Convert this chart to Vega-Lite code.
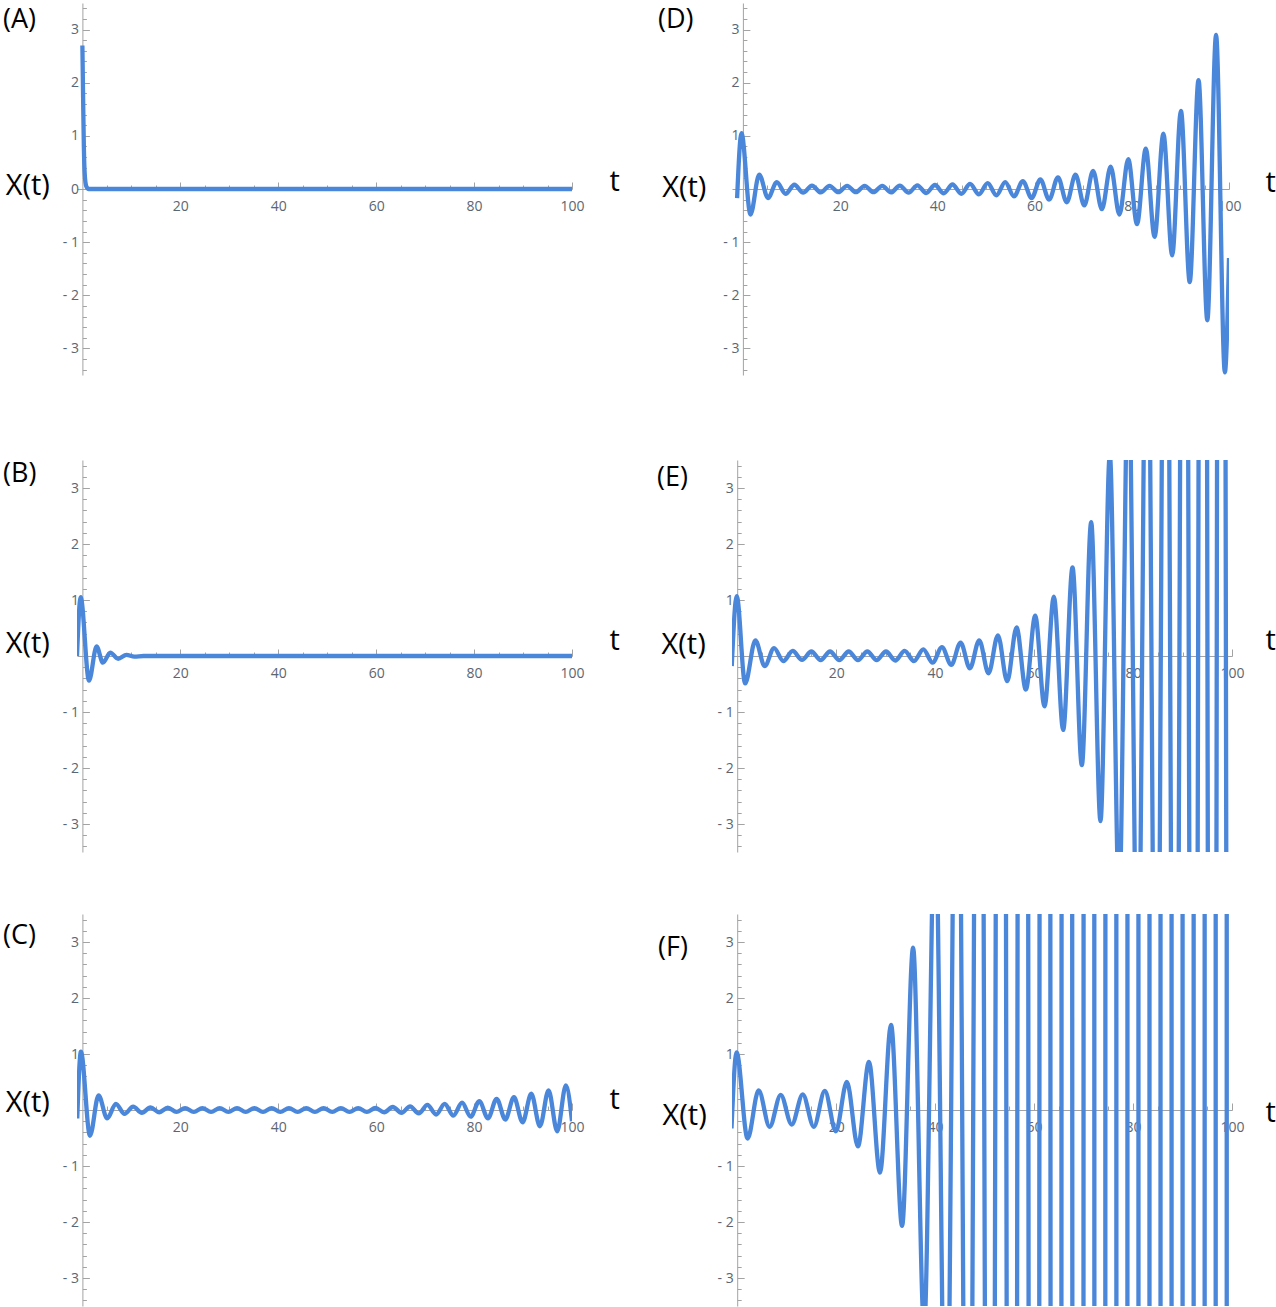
{
  "$schema": "https://vega.github.io/schema/vega-lite/v6.json",
  "background": "white",
  "padding": {"left": 3, "top": 1, "right": 0, "bottom": 0},
  "autosize": {"type": "pad"},
  "config": {
    "view": {"stroke": null},
    "axis": {"grid": false, "labelFont": "Open Sans", "labelFontSize": 14, "labelColor": "#5b6672", "domainColor": "#a3a3a3", "tickColor": "#a3a3a3", "domainWidth": 1, "tickWidth": 1, "titleFont": "Open Sans", "titleFontSize": 29, "titleFontWeight": "normal", "titleColor": "#000000", "labelOverlap": false, "labelFlush": false, "labelBound": false},
    "title": {"font": "Open Sans", "fontSize": 27, "fontWeight": "normal", "color": "#000000", "anchor": "start", "frame": "group", "offset": 0, "baseline": "middle", "align": "left"},
    "line": {"color": "#4a86d9", "strokeWidth": 4.3, "interpolate": "monotone", "strokeJoin": "round"}
  },
  "datasets": {
    "A": [{"t":0,"x":2.7},{"t":0.15,"x":1.7},{"t":0.3,"x":0.8},{"t":0.5,"x":0.25},{"t":0.8,"x":0.05},{"t":1.3,"x":0},{"t":100,"x":0}],
    "B": [{"t":-1.1,"x":0},{"t":-0.35,"x":1.05},{"t":1.35,"x":-0.44},{"t":2.9,"x":0.17},{"t":4.2,"x":-0.12},{"t":5.7,"x":0.06},{"t":7.3,"x":-0.05},{"t":9.0,"x":0.02},{"t":10.6,"x":-0.01},{"t":12.5,"x":0},{"t":100,"x":0}],
    "C": [{"t":-1.05,"x":-0.15},{"t":-0.3,"x":1.04},{"t":1.55,"x":-0.46},{"t":3.3,"x":0.26},{"t":5.07,"x":-0.15},{"t":6.84,"x":0.11},{"t":8.61,"x":-0.07},{"t":10.37,"x":0.06},{"t":12.14,"x":-0.05},{"t":13.91,"x":0.045},{"t":15.68,"x":-0.04},{"t":17.44,"x":0.04},{"t":19.21,"x":-0.035},{"t":20.98,"x":0.035},{"t":22.75,"x":-0.035},{"t":24.51,"x":0.035},{"t":26.28,"x":-0.035},{"t":28.05,"x":0.035},{"t":29.82,"x":-0.035},{"t":31.58,"x":0.035},{"t":33.35,"x":-0.035},{"t":35.12,"x":0.035},{"t":36.89,"x":-0.035},{"t":38.65,"x":0.035},{"t":40.42,"x":-0.035},{"t":42.19,"x":0.035},{"t":43.96,"x":-0.035},{"t":45.72,"x":0.035},{"t":47.49,"x":-0.035},{"t":49.26,"x":0.035},{"t":51.03,"x":-0.035},{"t":52.79,"x":0.035},{"t":54.56,"x":-0.035},{"t":56.33,"x":0.035},{"t":58.1,"x":-0.035},{"t":59.86,"x":0.036},{"t":61.63,"x":-0.04},{"t":63.4,"x":0.054},{"t":65.17,"x":-0.05},{"t":66.93,"x":0.066},{"t":68.7,"x":-0.06},{"t":70.47,"x":0.09},{"t":72.24,"x":-0.08},{"t":74.0,"x":0.11},{"t":75.77,"x":-0.1},{"t":77.54,"x":0.13},{"t":79.31,"x":-0.12},{"t":81.07,"x":0.16},{"t":82.84,"x":-0.15},{"t":84.61,"x":0.2},{"t":86.38,"x":-0.17},{"t":88.14,"x":0.23},{"t":89.91,"x":-0.22},{"t":91.68,"x":0.29},{"t":93.45,"x":-0.29},{"t":95.21,"x":0.35},{"t":96.98,"x":-0.38},{"t":98.75,"x":0.44},{"t":100,"x":-0.2}],
    "D": [{"t":-1.2,"x":-0.17},{"t":-0.3,"x":1.05},{"t":1.55,"x":-0.48},{"t":3.35,"x":0.27},{"t":5.16,"x":-0.17},{"t":6.97,"x":0.13},{"t":8.78,"x":-0.09},{"t":10.58,"x":0.08},{"t":12.39,"x":-0.07},{"t":14.2,"x":0.065},{"t":16.01,"x":-0.065},{"t":17.81,"x":0.06},{"t":19.62,"x":-0.06},{"t":21.43,"x":0.06},{"t":23.24,"x":-0.06},{"t":25.04,"x":0.06},{"t":26.85,"x":-0.06},{"t":28.66,"x":0.06},{"t":30.47,"x":-0.065},{"t":32.27,"x":0.065},{"t":34.08,"x":-0.07},{"t":35.89,"x":0.07},{"t":37.7,"x":-0.075},{"t":39.5,"x":0.075},{"t":41.31,"x":-0.08},{"t":43.12,"x":0.085},{"t":44.93,"x":-0.09},{"t":46.73,"x":0.095},{"t":48.54,"x":-0.1},{"t":50.35,"x":0.11},{"t":52.16,"x":-0.12},{"t":53.96,"x":0.13},{"t":55.77,"x":-0.14},{"t":57.58,"x":0.15},{"t":59.39,"x":-0.17},{"t":61.19,"x":0.18},{"t":63.0,"x":-0.2},{"t":64.81,"x":0.22},{"t":66.62,"x":-0.25},{"t":68.42,"x":0.27},{"t":70.23,"x":-0.31},{"t":72.04,"x":0.34},{"t":73.85,"x":-0.38},{"t":75.65,"x":0.42},{"t":77.46,"x":-0.48},{"t":79.27,"x":0.56},{"t":81.08,"x":-0.66},{"t":82.88,"x":0.76},{"t":84.69,"x":-0.9},{"t":86.5,"x":1.04},{"t":88.31,"x":-1.25},{"t":90.11,"x":1.47},{"t":91.92,"x":-1.75},{"t":93.73,"x":2.05},{"t":95.54,"x":-2.47},{"t":97.34,"x":2.9},{"t":99.15,"x":-3.45},{"t":100,"x":-1.3}],
    "E": [{"t":-1.1,"x":-0.18},{"t":-0.09,"x":1.07},{"t":1.6,"x":-0.49},{"t":3.68,"x":0.28},{"t":5.56,"x":-0.18},{"t":7.45,"x":0.14},{"t":9.33,"x":-0.09},{"t":11.22,"x":0.09},{"t":13.1,"x":-0.07},{"t":14.99,"x":0.08},{"t":16.87,"x":-0.075},{"t":18.76,"x":0.08},{"t":20.64,"x":-0.075},{"t":22.53,"x":0.08},{"t":24.41,"x":-0.075},{"t":26.3,"x":0.08},{"t":28.18,"x":-0.075},{"t":30.07,"x":0.08},{"t":31.95,"x":-0.08},{"t":33.84,"x":0.09},{"t":35.72,"x":-0.09},{"t":37.61,"x":0.12},{"t":39.49,"x":-0.12},{"t":41.38,"x":0.16},{"t":43.26,"x":-0.16},{"t":45.15,"x":0.24},{"t":47.03,"x":-0.22},{"t":48.92,"x":0.28},{"t":50.8,"x":-0.31},{"t":52.69,"x":0.37},{"t":54.57,"x":-0.45},{"t":56.46,"x":0.51},{"t":58.34,"x":-0.6},{"t":60.23,"x":0.72},{"t":62.11,"x":-0.9},{"t":64.0,"x":1.06},{"t":65.88,"x":-1.32},{"t":67.77,"x":1.58},{"t":69.65,"x":-1.95},{"t":71.54,"x":2.39},{"t":73.42,"x":-2.95},{"t":75.31,"x":3.6},{"t":77.19,"x":-4.4},{"t":79.08,"x":5.4},{"t":80.96,"x":-6.7},{"t":82.85,"x":8.2},{"t":84.73,"x":-10},{"t":86.62,"x":12.3},{"t":88.5,"x":-15},{"t":90.39,"x":18.5},{"t":92.27,"x":-23},{"t":94.16,"x":28},{"t":96.04,"x":-34},{"t":97.93,"x":42},{"t":99.81,"x":-52}],
    "F": [{"t":-1.15,"x":-0.33},{"t":-0.13,"x":1.03},{"t":2.1,"x":-0.51},{"t":4.33,"x":0.35},{"t":6.56,"x":-0.3},{"t":8.79,"x":0.27},{"t":11.02,"x":-0.26},{"t":13.25,"x":0.28},{"t":15.48,"x":-0.3},{"t":17.71,"x":0.34},{"t":19.94,"x":-0.38},{"t":22.17,"x":0.5},{"t":24.4,"x":-0.65},{"t":26.63,"x":0.86},{"t":28.86,"x":-1.12},{"t":31.09,"x":1.52},{"t":33.32,"x":-2.07},{"t":35.55,"x":2.9},{"t":37.78,"x":-3.9},{"t":40.01,"x":5.4},{"t":42.24,"x":-7.3},{"t":44.47,"x":10},{"t":46.7,"x":-13.6},{"t":48.93,"x":18.5},{"t":51.16,"x":-25},{"t":53.39,"x":34},{"t":55.62,"x":-46},{"t":57.85,"x":63},{"t":60.08,"x":-85},{"t":62.31,"x":116},{"t":64.54,"x":-158},{"t":66.77,"x":215},{"t":69.0,"x":-290},{"t":71.23,"x":400},{"t":73.46,"x":-540},{"t":75.69,"x":730},{"t":77.92,"x":-1000},{"t":80.15,"x":1350},{"t":82.38,"x":-1840},{"t":84.61,"x":2500},{"t":86.84,"x":-3400},{"t":89.07,"x":4600},{"t":91.3,"x":-6300},{"t":93.53,"x":8500},{"t":95.76,"x":-11600},{"t":97.99,"x":15800},{"t":100.22,"x":-21500}]
  },
  "columns": 2,
  "spacing": {"row": 0, "column": 160},
  "bounds": "flush",
  "align": "each",
  "concat": [
    {
      "width": 495, "height": 372,
      "title": {"text": "(A)", "dx": -74, "dy": 36.5},
      "data": {"name": "A"},
      "mark": {"type": "line", "clip": true},
      "encoding": {
        "x": {"field": "t", "type": "quantitative", "scale": {"domain": [-1.1, 100], "nice": false, "zero": false},
          "axis": {"orient": "bottom", "offset": -186, "values": [5,10,15,20,25,30,35,40,45,50,55,60,65,70,75,80,85,90,95,100], "labelExpr": "datum.value % 20 === 0 ? datum.label : ''", "tickSize": {"condition": {"test": "datum.value % 20 === 0", "value": -7}, "value": -4}, "labelPadding": 17, "title": "t", "titleX": 532, "titleY": -8, "titleAlign": "left", "titleBaseline": "middle", "titleAngle": 0}},
        "y": {"field": "x", "type": "quantitative", "scale": {"domain": [-3.5, 3.5], "nice": false, "zero": false},
          "axis": {"orient": "left", "offset": -5.4, "values": [-3.4,-3.2,-3,-2.8,-2.6,-2.4,-2.2,-2,-1.8,-1.6,-1.4,-1.2,-1,-0.8,-0.6,-0.4,-0.2,0,0.2,0.4,0.6,0.8,1,1.2,1.4,1.6,1.8,2,2.2,2.4,2.6,2.8,3,3.2,3.4], "labelExpr": "abs(datum.value - round(datum.value)) < 0.01 ? (datum.value < -0.5 ? '- ' + round(abs(datum.value)) : '' + round(datum.value)) : ''", "tickSize": {"condition": {"test": "abs(datum.value - round(datum.value)) < 0.01", "value": -7}, "value": -4}, "labelPadding": 11, "title": "X(t)", "titleAngle": 0, "titleX": -33, "titleY": 182.5, "titleAlign": "right", "titleBaseline": "middle"}}
      }
    },
    {
      "width": 497, "height": 372,
      "title": {"text": "(D)", "dx": -74, "dy": 37},
      "data": {"name": "D"},
      "mark": {"type": "line", "clip": true},
      "encoding": {
        "x": {"field": "t", "type": "quantitative", "scale": {"domain": [-2.25, 100], "nice": false, "zero": false},
          "axis": {"orient": "bottom", "offset": -186, "values": [5,10,15,20,25,30,35,40,45,50,55,60,65,70,75,80,85,90,95,100], "labelExpr": "datum.value % 20 === 0 ? datum.label : ''", "tickSize": {"condition": {"test": "datum.value % 20 === 0", "value": -7}, "value": -4}, "labelPadding": 17, "title": "t", "titleX": 533, "titleY": -7, "titleAlign": "left", "titleBaseline": "middle", "titleAngle": 0}},
        "y": {"field": "x", "type": "quantitative", "scale": {"domain": [-3.5, 3.5], "nice": false, "zero": false},
          "axis": {"orient": "left", "offset": -10.9, "values": [-3.4,-3.2,-3,-2.8,-2.6,-2.4,-2.2,-2,-1.8,-1.6,-1.4,-1.2,-1,-0.8,-0.6,-0.4,-0.2,0,0.2,0.4,0.6,0.8,1,1.2,1.4,1.6,1.8,2,2.2,2.4,2.6,2.8,3,3.2,3.4], "labelExpr": "abs(datum.value - round(datum.value)) < 0.01 && abs(datum.value) > 0.5 ? (datum.value < 0 ? '- ' + round(abs(datum.value)) : '' + round(datum.value)) : ''", "tickSize": {"condition": {"test": "abs(datum.value - round(datum.value)) < 0.01", "value": -7}, "value": -4}, "labelPadding": 11, "title": "X(t)", "titleAngle": 0, "titleX": -37, "titleY": 184, "titleAlign": "right", "titleBaseline": "middle"}}
      }
    },
    {"width": 10, "height": 84.5, "data": {"values": [{"a": 0}]}, "mark": "text", "encoding": {"text": {"value": ""}}},
    {"width": 10, "height": 84.5, "data": {"values": [{"a": 0}]}, "mark": "text", "encoding": {"text": {"value": ""}}},
    {
      "width": 495, "height": 392,
      "title": {"text": "(B)", "dx": -74, "dy": 33.5},
      "data": {"name": "B"},
      "mark": {"type": "line", "clip": true},
      "encoding": {
        "x": {"field": "t", "type": "quantitative", "scale": {"domain": [-1.1, 100], "nice": false, "zero": false},
          "axis": {"orient": "bottom", "offset": -196, "values": [5,10,15,20,25,30,35,40,45,50,55,60,65,70,75,80,85,90,95,100], "labelExpr": "datum.value % 20 === 0 ? datum.label : ''", "tickSize": {"condition": {"test": "datum.value % 20 === 0", "value": -7}, "value": -4}, "labelPadding": 17, "title": "t", "titleX": 532, "titleY": -16, "titleAlign": "left", "titleBaseline": "middle", "titleAngle": 0}},
        "y": {"field": "x", "type": "quantitative", "scale": {"domain": [-3.5, 3.5], "nice": false, "zero": false},
          "axis": {"orient": "left", "offset": -5.4, "values": [-3.4,-3.2,-3,-2.8,-2.6,-2.4,-2.2,-2,-1.8,-1.6,-1.4,-1.2,-1,-0.8,-0.6,-0.4,-0.2,0,0.2,0.4,0.6,0.8,1,1.2,1.4,1.6,1.8,2,2.2,2.4,2.6,2.8,3,3.2,3.4], "labelExpr": "abs(datum.value - round(datum.value)) < 0.01 && abs(datum.value) > 0.5 ? (datum.value < 0 ? '- ' + round(abs(datum.value)) : '' + round(datum.value)) : ''", "tickSize": {"condition": {"test": "abs(datum.value - round(datum.value)) < 0.01", "value": -7}, "value": -4}, "labelPadding": 11, "title": "X(t)", "titleAngle": 0, "titleX": -33, "titleY": 183, "titleAlign": "right", "titleBaseline": "middle"}}
      }
    },
    {
      "width": 500, "height": 392,
      "title": {"text": "(E)", "dx": -75, "dy": 37.5},
      "data": {"name": "E"},
      "mark": {"type": "line", "clip": true},
      "encoding": {
        "x": {"field": "t", "type": "quantitative", "scale": {"domain": [-1.05, 100], "nice": false, "zero": false},
          "axis": {"orient": "bottom", "offset": -196, "values": [5,10,15,20,25,30,35,40,45,50,55,60,65,70,75,80,85,90,95,100], "labelExpr": "datum.value % 20 === 0 ? datum.label : ''", "tickSize": {"condition": {"test": "datum.value % 20 === 0", "value": -7}, "value": -4}, "labelPadding": 17, "title": "t", "titleX": 533, "titleY": -16, "titleAlign": "left", "titleBaseline": "middle", "titleAngle": 0}},
        "y": {"field": "x", "type": "quantitative", "scale": {"domain": [-3.5, 3.5], "nice": false, "zero": false},
          "axis": {"orient": "left", "offset": -5.2, "values": [-3.4,-3.2,-3,-2.8,-2.6,-2.4,-2.2,-2,-1.8,-1.6,-1.4,-1.2,-1,-0.8,-0.6,-0.4,-0.2,0,0.2,0.4,0.6,0.8,1,1.2,1.4,1.6,1.8,2,2.2,2.4,2.6,2.8,3,3.2,3.4], "labelExpr": "abs(datum.value - round(datum.value)) < 0.01 && abs(datum.value) > 0.5 ? (datum.value < 0 ? '- ' + round(abs(datum.value)) : '' + round(datum.value)) : ''", "tickSize": {"condition": {"test": "abs(datum.value - round(datum.value)) < 0.01", "value": -7}, "value": -4}, "labelPadding": 11, "title": "X(t)", "titleAngle": 0, "titleX": -32, "titleY": 184, "titleAlign": "right", "titleBaseline": "middle"}}
      }
    },
    {"width": 10, "height": 61.5, "data": {"values": [{"a": 0}]}, "mark": "text", "encoding": {"text": {"value": ""}}},
    {"width": 10, "height": 61.5, "data": {"values": [{"a": 0}]}, "mark": "text", "encoding": {"text": {"value": ""}}},
    {
      "width": 495, "height": 392,
      "title": {"text": "(C)", "dx": -74, "dy": 41},
      "data": {"name": "C"},
      "mark": {"type": "line", "clip": true},
      "encoding": {
        "x": {"field": "t", "type": "quantitative", "scale": {"domain": [-1.1, 100], "nice": false, "zero": false},
          "axis": {"orient": "bottom", "offset": -196, "values": [5,10,15,20,25,30,35,40,45,50,55,60,65,70,75,80,85,90,95,100], "labelExpr": "datum.value % 20 === 0 ? datum.label : ''", "tickSize": {"condition": {"test": "datum.value % 20 === 0", "value": -7}, "value": -4}, "labelPadding": 17, "title": "t", "titleX": 532, "titleY": -11, "titleAlign": "left", "titleBaseline": "middle", "titleAngle": 0}},
        "y": {"field": "x", "type": "quantitative", "scale": {"domain": [-3.5, 3.5], "nice": false, "zero": false},
          "axis": {"orient": "left", "offset": -5.4, "values": [-3.4,-3.2,-3,-2.8,-2.6,-2.4,-2.2,-2,-1.8,-1.6,-1.4,-1.2,-1,-0.8,-0.6,-0.4,-0.2,0,0.2,0.4,0.6,0.8,1,1.2,1.4,1.6,1.8,2,2.2,2.4,2.6,2.8,3,3.2,3.4], "labelExpr": "abs(datum.value - round(datum.value)) < 0.01 && abs(datum.value) > 0.5 ? (datum.value < 0 ? '- ' + round(abs(datum.value)) : '' + round(datum.value)) : ''", "tickSize": {"condition": {"test": "abs(datum.value - round(datum.value)) < 0.01", "value": -7}, "value": -4}, "labelPadding": 11, "title": "X(t)", "titleAngle": 0, "titleX": -33, "titleY": 188, "titleAlign": "right", "titleBaseline": "middle"}}
      }
    },
    {
      "width": 500, "height": 392,
      "title": {"text": "(F)", "dx": -74, "dy": 53},
      "data": {"name": "F"},
      "mark": {"type": "line", "clip": true},
      "encoding": {
        "x": {"field": "t", "type": "quantitative", "scale": {"domain": [-1.05, 100], "nice": false, "zero": false},
          "axis": {"orient": "bottom", "offset": -196, "values": [5,10,15,20,25,30,35,40,45,50,55,60,65,70,75,80,85,90,95,100], "labelExpr": "datum.value % 20 === 0 ? datum.label : ''", "tickSize": {"condition": {"test": "datum.value % 20 === 0", "value": -7}, "value": -4}, "labelPadding": 17, "title": "t", "titleX": 533, "titleY": 2, "titleAlign": "left", "titleBaseline": "middle", "titleAngle": 0}},
        "y": {"field": "x", "type": "quantitative", "scale": {"domain": [-3.5, 3.5], "nice": false, "zero": false},
          "axis": {"orient": "left", "offset": -5.2, "values": [-3.4,-3.2,-3,-2.8,-2.6,-2.4,-2.2,-2,-1.8,-1.6,-1.4,-1.2,-1,-0.8,-0.6,-0.4,-0.2,0,0.2,0.4,0.6,0.8,1,1.2,1.4,1.6,1.8,2,2.2,2.4,2.6,2.8,3,3.2,3.4], "labelExpr": "abs(datum.value - round(datum.value)) < 0.01 && abs(datum.value) > 0.5 ? (datum.value < 0 ? '- ' + round(abs(datum.value)) : '' + round(datum.value)) : ''", "tickSize": {"condition": {"test": "abs(datum.value - round(datum.value)) < 0.01", "value": -7}, "value": -4}, "labelPadding": 11, "title": "X(t)", "titleAngle": 0, "titleX": -31, "titleY": 201, "titleAlign": "right", "titleBaseline": "middle"}}
      }
    }
  ]
}
